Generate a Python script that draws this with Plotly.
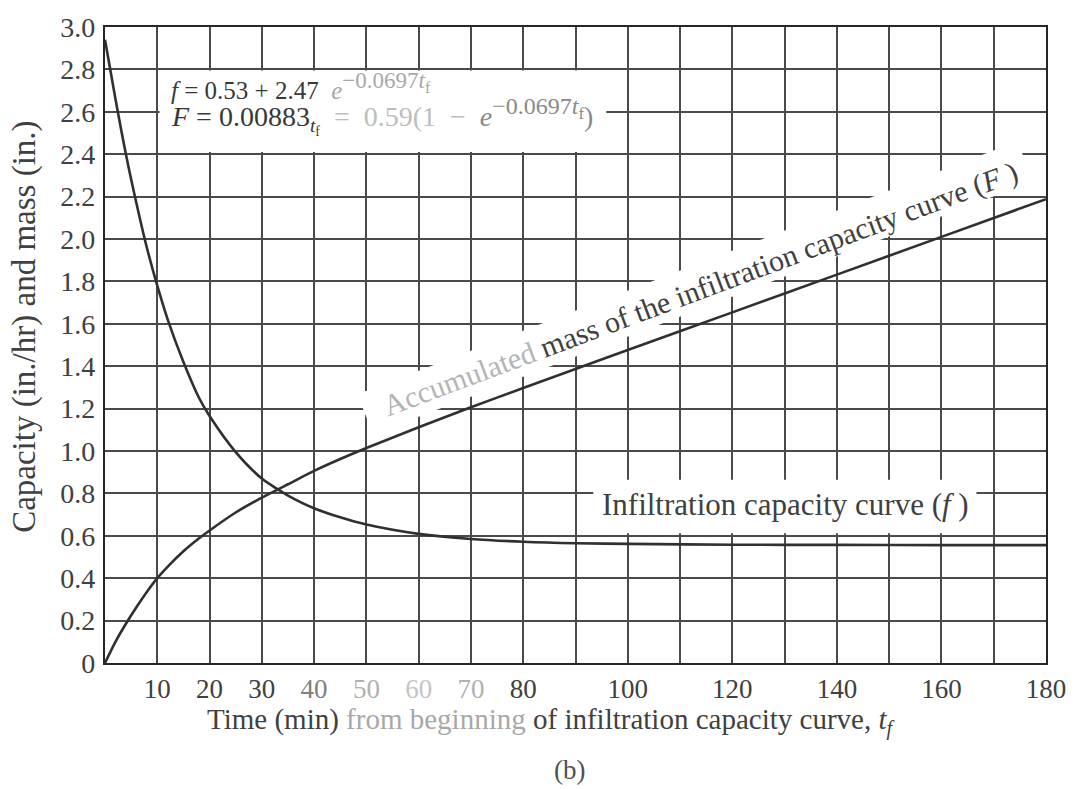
import plotly.graph_objects as go

# Time from the beginning of the infiltration capacity curve (min)
t_f = [0, 2, 4, 6, 8, 10, 12, 15, 18, 20, 25, 30, 33, 35, 40, 45, 50,
       60, 70, 80, 90, 100, 120, 140, 160, 180]
# Infiltration capacity f (in./hr)
capacity_f = [2.94, 2.66, 2.40, 2.17, 1.96, 1.78, 1.62, 1.42, 1.25, 1.165, 0.995,
              0.87, 0.82, 0.79, 0.73, 0.687, 0.653, 0.609, 0.585, 0.572,
              0.565, 0.562, 0.558, 0.557, 0.556, 0.556]
# Accumulated mass F of the infiltration capacity curve (in.)
mass_F = [0, 0.10, 0.185, 0.263, 0.335, 0.40, 0.455, 0.527, 0.588, 0.625, 0.71,
          0.78, 0.818, 0.843, 0.906, 0.962, 1.014, 1.112, 1.206, 1.297, 1.387,
          1.476, 1.654, 1.832, 2.01, 2.188]

x_tick_values = [10, 20, 30, 40, 50, 60, 70, 80, 100, 120, 140, 160, 180]
x_tick_labels = ["10", "20", "30", "40", "50", "60", "70", "80",
                 "100", "120", "140", "160", "180"]
x_unlabelled_grid = [90, 110, 130, 150, 170]
y_tick_values = [0, 0.2, 0.4, 0.6, 0.8, 1.0, 1.2, 1.4, 1.6, 1.8, 2.0, 2.2,
                 2.4, 2.6, 2.8, 3.0]
y_tick_labels = ["0", "0.2", "0.4", "0.6", "0.8", "1.0", "1.2", "1.4", "1.6",
                 "1.8", "2.0", "2.2", "2.4", "2.6", "2.8", "3.0"]

INK = "#383838"
TEXT = "#404040"
GRID = "#4a4a4a"
FADED = "#a8a8a8"
FONT = "Liberation Serif"
SP = "&nbsp;"

# printed ink is uneven: a few tick labels came out paler
x_label_colors = {"40": "#808080", "50": "#b0b0b0", "60": "#c4c4c4", "70": "#b0b0b0"}
x_tick_text = [
    f"<span style='color:{x_label_colors[s]}'>{s}</span>" if s in x_label_colors else s
    for s in x_tick_labels
]

fig = go.Figure()
fig.add_trace(go.Scatter(x=t_f, y=capacity_f, mode="lines",
                         line=dict(color="#303030", width=2.6, shape="spline", smoothing=0.8),
                         hoverinfo="skip"))
fig.add_trace(go.Scatter(x=t_f, y=mass_F, mode="lines",
                         line=dict(color="#303030", width=2.6, shape="spline", smoothing=0.8),
                         hoverinfo="skip"))

# white patches that interrupt the grid behind the labels
fig.add_shape(type="rect", xref="x", yref="y", x0=10.45, x1=95.9, y0=2.41, y1=2.795,
              fillcolor="white", line_width=0, layer="between")
fig.add_shape(type="rect", xref="x", yref="y", x0=93.4, x1=166.7, y0=0.612, y1=0.864,
              fillcolor="white", line_width=0, layer="between")
fig.add_shape(type="path", xref="x", yref="y",
              path="M 51.26,1.0785 L 48.30,1.2678 L 174.56,2.4612 L 177.5,2.272 Z",
              fillcolor="white", line_width=0, layer="between")

exp_term = "−0.0697<i>t</i><sub>f</sub>"
fig.add_annotation(
    xref="x", yref="y", x=12.3, y=2.72, xanchor="left", yanchor="middle",
    text=(f"<i>f</i> = 0.53 + 2.47 {SP}<span style='color:{FADED}'><i>e</i>"
          f"<sup><span style='font-size:23px'>{exp_term}</span></sup></span>"),
    showarrow=False, font=dict(family=FONT, size=25, color=INK))
fig.add_annotation(
    xref="x", yref="y", x=12.3, y=2.58, xanchor="left", yanchor="middle",
    text=(f"<i>F</i> = 0.00883<sub><i>t</i><sub>f</sub></sub>{SP} "
          f"<span style='color:#bdbdbd'>={SP} 0.59(1 {SP}−{SP} </span>"
          f"<span style='color:#8a8a8a'><i>e</i>"
          f"<sup><span style='font-size:24px'>{exp_term}</span></sup>)</span>"),
    showarrow=False, font=dict(family=FONT, size=28, color=INK))

fig.add_annotation(
    xref="x", yref="y", x=130.1, y=0.748, xanchor="center", yanchor="middle",
    text="Infiltration capacity curve (<i>f</i> )",
    showarrow=False, font=dict(family=FONT, size=31, color=TEXT))

fig.add_annotation(
    xref="x", yref="y", x=113.9, y=1.766, xanchor="center", yanchor="middle",
    textangle=-20.5,
    text="<span style='color:#b4b4b4'>Accumulated</span> mass of the infiltration capacity curve (<i>F</i> )",
    showarrow=False, font=dict(family=FONT, size=30, color=TEXT))

# axis titles and caption
fig.add_annotation(
    xref="paper", yref="paper", x=0.4736, y=-0.0925, xanchor="center", yanchor="middle",
    text=(f"Time (min) <span style='color:{FADED}'>from beginning</span> "
          f"of infiltration capacity curve, <i>t<sub>f</sub></i>"),
    showarrow=False, font=dict(family=FONT, size=29, color=TEXT))
fig.add_annotation(
    xref="paper", yref="paper", x=0.4937, y=-0.1682, xanchor="center", yanchor="middle",
    text="(b)", showarrow=False, font=dict(family=FONT, size=27, color="#505050"))
fig.add_annotation(
    xref="paper", yref="paper", x=-0.0854, y=0.528, xanchor="center", yanchor="middle",
    textangle=-90, text="Capacity (in./hr) and mass (in.)",
    showarrow=False, font=dict(family=FONT, size=33, color=TEXT))

fig.update_xaxes(
    range=[0, 180], tickvals=x_tick_values, ticktext=x_tick_text,
    showgrid=True, gridcolor=GRID, gridwidth=1.7, zeroline=False,
    minor=dict(tickmode="array", tickvals=x_unlabelled_grid, ticks="",
               showgrid=True, gridcolor=GRID, gridwidth=1.7),
    showline=True, linecolor="#262626", linewidth=2.2, mirror=True,
    ticks="", ticklabelstandoff=0,
    tickfont=dict(family=FONT, size=27, color=TEXT))
fig.update_yaxes(
    range=[0, 3.0], tickvals=y_tick_values, ticktext=y_tick_labels,
    showgrid=True, gridcolor=GRID, gridwidth=1.7, zeroline=False,
    showline=True, linecolor="#262626", linewidth=2.2, mirror=True,
    ticks="", ticklabelstandoff=2,
    tickfont=dict(family=FONT, size=28, color=TEXT))

fig.update_layout(
    width=1078, height=789,
    margin=dict(l=105, r=25, t=21, b=126),
    paper_bgcolor="white", plot_bgcolor="white",
    showlegend=False, hovermode=False,
)

fig.write_html("out.html")
